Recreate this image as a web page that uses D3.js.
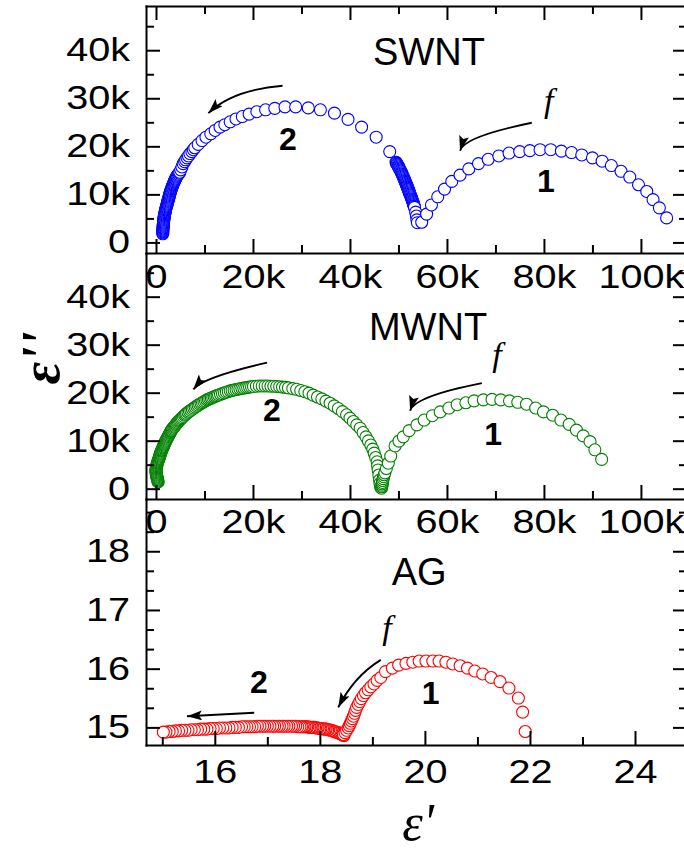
<!DOCTYPE html>
<html><head><meta charset="utf-8">
<script src="https://cdn.jsdelivr.net/npm/d3@7"></script>
<style>body{margin:0;background:#fff} svg{display:block}</style>
</head><body>
<svg id="chart" width="684" height="852"></svg>
<script>
// ---------------- data (SWNT / MWNT in thousands) ----------------
const swnt2 = [
[1.40,1.8],[1.40,2.0],[1.40,2.2],[1.41,2.4],[1.42,2.6],[1.43,2.8],[1.45,3.0],[1.47,3.2],[1.49,3.4],[1.51,3.6],[1.53,3.8],[1.55,4.0],[1.56,4.2],[1.58,4.4],[1.60,4.6],[1.62,4.8],[1.65,5.0],[1.68,5.2],[1.72,5.4],[1.75,5.6],[1.78,5.8],[1.82,6.0],[1.86,6.2],[1.90,6.4],[1.94,6.6],[1.98,6.8],[2.03,7.0],[2.08,7.2],[2.13,7.4],[2.19,7.6],[2.24,7.8],[2.30,8.0],[2.35,8.2],[2.41,8.4],[2.46,8.6],[2.52,8.8],[2.57,9.0],[2.63,9.2],[2.68,9.4],[2.73,9.6],[2.78,9.8],[2.83,10.0],[2.88,10.2],[2.94,10.4],[3.00,10.6],[3.06,10.8],[3.13,11.0],[3.20,11.2],[3.27,11.4],[3.34,11.6],[3.41,11.8],[3.49,12.0],[3.57,12.2],[3.65,12.4],[3.73,12.6],[3.81,12.8],[3.90,13.0],[4.00,13.2],[4.10,13.4],[4.20,13.6],[4.30,13.8],[4.45,14.0],[4.60,14.2],[4.75,14.4],[4.90,14.6],[5.1,15.1],
[5.35,15.7],[5.6,16.4],[5.9,16.8],[6.1,17.2],[6.4,17.6],[6.7,18.0],[7.0,18.5],[7.4,18.9],[7.7,19.3],[8.0,19.7],[8.7,20.4],[9.5,21.2],[10.3,21.9],[11.3,22.6],[12.2,23.3],[13.2,24.0],[14.2,24.5],[15.3,25.1],[16.5,25.7],[17.8,26.2],[19.2,26.7],[20.8,27.2],[22.6,27.6],[24.5,27.9],[26.6,28.2],[28.8,28.2],[31.4,28.0],[33.9,27.6],[36.8,26.9],[39.6,25.6],[42.4,24.0],[45.4,21.9],[48.2,18.9],
[49.5,16.7],[49.6,16.5],[49.7,16.3],[49.85,16.1],[49.95,15.9],[50.05,15.7],[50.15,15.5],[50.25,15.3],[50.35,15.1],[50.45,14.9],[50.55,14.7],[50.65,14.5],[50.72,14.3],[50.8,14.1],[50.9,13.9],[50.98,13.7],[51.05,13.5],[51.15,13.3],[51.23,13.1],[51.3,12.9],[51.38,12.7],[51.46,12.5],[51.54,12.3],[51.62,12.1],[51.7,11.9],[51.78,11.7],[51.85,11.5],[51.93,11.3],[52.0,11.1],[52.08,10.9],[52.15,10.7],[52.23,10.5],[52.3,10.3],[52.38,10.1],[52.45,9.9],[52.52,9.7],[52.6,9.5],[52.67,9.3],[52.74,9.1],[52.81,8.9],[52.88,8.7],[52.95,8.5],[53.02,8.3],[53.08,8.1],[53.14,7.9],[53.2,7.7],[53.25,7.5],[53.3,7.3],[53.55,6.3],[53.7,5.5],[53.8,4.7],[53.9,4.1]
];
const swnt1 = [
[54.8,4.2],[55.8,5.9],[56.8,7.8],[58.1,9.5],[59.5,11.1],[61.0,12.7],[62.7,14.0],[64.5,15.3],[66.5,16.4],[68.5,17.3],[70.7,18.0],[72.8,18.6],[75.0,18.9],[77.1,19.1],[79.2,19.3],[81.4,19.3],[83.6,19.0],[85.7,18.7],[87.8,18.2],[90.0,17.6],[92.0,16.9],[93.9,16.0],[95.9,14.8],[97.7,13.6],[99.5,12.0],[101.2,10.6],[102.5,8.9],[103.8,7.2],[105.3,5.1]
];
const mwnt2 = [
[0.45,1.4],[0.4,1.6],[0.35,1.8],[0.3,2.0],[0.25,2.2],[0.2,2.4],[0.15,2.6],[0.1,2.8],[0.07,3.0],[0.04,3.2],[0.02,3.4],[0.0,3.6],[0.0,3.8],[0.02,4.0],[0.05,4.2],[0.08,4.4],[0.12,4.6],[0.16,4.8],[0.2,5.0],[0.25,5.2],[0.3,5.4],[0.36,5.6],[0.43,5.8],[0.5,6.0],[0.57,6.2],[0.63,6.4],[0.7,6.6],[0.77,6.8],[0.83,7.0],[0.9,7.2],[0.97,7.4],[1.03,7.6],[1.1,7.8],[1.15,7.95],[1.2,8.1],[1.29,8.3],[1.38,8.5],[1.47,8.7],[1.56,8.9],[1.65,9.1],[1.74,9.3],[1.83,9.5],[1.92,9.7],[2.01,9.9],[2.1,10.1],[2.2,10.3],[2.31,10.5],[2.41,10.7],[2.52,10.9],[2.62,11.1],[2.73,11.3],[2.84,11.5],[2.94,11.7],[3.05,11.9],[3.12,12.05],[3.2,12.2],[3.35,12.4],[3.5,12.6],[3.66,12.8],[3.82,13.0],[3.97,13.2],[4.13,13.4],[4.28,13.6],[4.44,13.8],[4.6,14.0],[4.8,14.2],[5.0,14.4],[5.2,14.6],[5.4,14.8],[5.65,15.05],[5.9,15.3],[6.1,15.5],[6.3,15.7],[6.6,15.92],[6.9,16.13],[7.2,16.35],[7.5,16.56],[7.8,16.78],[8.1,16.99],[8.4,17.2],[8.7,17.4],[9.0,17.6],[9.3,17.78],[9.6,17.95],[9.9,18.12],[10.2,18.3],[10.5,18.5],[10.8,18.63],[11.1,18.76],[11.4,18.89],[11.7,19.02],[12.0,19.15],[12.3,19.28],[12.6,19.4],[12.9,19.52],[13.3,19.67],[13.7,19.81],[14.1,19.95],[14.5,20.1],[14.9,20.24],[15.3,20.4],[15.7,20.48],[16.1,20.56],[16.5,20.65],[16.9,20.73],[17.3,20.82],[17.7,20.9],[18.1,20.97],[18.5,21.03],[18.9,21.1],[19.3,21.17],[19.7,21.23],[20.1,21.3],[20.7,21.35],[21.3,21.4],[21.9,21.4],[22.5,21.4],[23.1,21.4],[23.7,21.35],[24.3,21.35],[24.9,21.3],[25.5,21.25],[26.1,21.15],[26.7,21.1],[27.3,21.0],
[28.2,20.85],[29.0,20.7],[29.85,20.45],[30.7,20.2],[31.55,19.9],[32.4,19.5],[33.3,19.1],[34.2,18.7],[35.05,18.25],[35.9,17.8],[36.75,17.25],[37.6,16.7],[38.45,16.05],[39.3,15.4],[40.0,14.7],[40.7,14.0],[41.4,13.3],[42.1,12.6],[42.7,11.7],[43.3,10.8],[43.8,9.95],[44.3,9.1],[44.7,8.25],[45.0,7.4],[45.3,6.5],[45.6,5.6],[45.7,4.75],[45.8,3.9],[45.95,2.85],[46.1,1.8],[46.2,1.1],[46.3,0.4]
];
const mwnt1 = [
[46.5,0.1],[46.55,0.4],[46.6,0.7],[46.65,1.0],[46.7,1.3],[46.75,1.7],[46.85,2.1],[46.95,2.5],[47.05,2.9],[47.2,3.3],[47.5,4.2],[47.9,5.3],[48.4,6.8],[49.3,8.9],[50.1,9.9],[51.0,10.8],[52.2,12.1],[53.8,13.3],[55.3,14.3],[57.0,15.2],[58.6,16.0],[60.4,16.8],[62.1,17.5],[63.9,17.9],[65.6,18.3],[67.5,18.5],[69.3,18.6],[71.1,18.5],[72.9,18.3],[74.6,18.0],[76.4,17.6],[78.3,16.8],[79.9,16.0],[81.8,15.3],[83.5,14.3],[85.2,13.4],[86.7,12.2],[88.1,11.0],[89.5,9.8],[90.5,8.1],[91.9,6.1]
];
const ag2 = [
[18.46,14.86],[18.44,14.87],[18.42,14.88],[18.40,14.89],[18.37,14.90],[18.35,14.91],[18.32,14.92],[18.30,14.92],[18.27,14.93],[18.25,14.94],[18.22,14.95],[18.20,14.95],[18.17,14.96],[18.15,14.96],[18.12,14.97],[18.10,14.97],[18.07,14.97],[18.05,14.98],[18.02,14.98],[18.00,14.98],[17.97,14.99],[17.95,14.99],[17.92,14.99],[17.90,15.00],[17.87,15.00],[17.85,15.00],[17.82,15.00],[17.80,15.00],[17.77,15.01],[17.75,15.01],[17.72,15.01],[17.70,15.01],[17.67,15.01],[17.65,15.01],[17.62,15.01],
[17.58,15.01],[17.54,15.02],[17.50,15.02],[17.46,15.02],[17.41,15.02],[17.37,15.02],[17.32,15.02],[17.28,15.02],[17.23,15.02],[17.19,15.02],[17.14,15.02],[17.10,15.02],[17.05,15.02],[17.00,15.02],[16.95,15.02],[16.91,15.02],[16.86,15.02],[16.81,15.02],[16.76,15.01],[16.71,15.01],[16.66,15.01],[16.61,15.01],[16.56,15.01],[16.51,15.01],
[16.45,15.00],[16.39,15.00],[16.33,15.00],[16.27,14.99],[16.21,14.99],[16.15,14.99],[16.09,14.99],[16.03,14.98],[15.97,14.98],[15.91,14.98],[15.85,14.97],[15.79,14.97],[15.73,14.97],[15.67,14.96],[15.61,14.96],[15.55,14.96],[15.49,14.95],[15.43,14.95],[15.37,14.95],[15.31,14.94],[15.25,14.94],[15.19,14.93],[15.13,14.93],[15.07,14.92],[15.02,14.92]
];
const ag1 = [
[18.45,14.88],[18.48,14.91],[18.51,14.95],[18.54,14.99],[18.56,15.03],[18.58,15.07],[18.60,15.11],[18.62,15.15],[18.64,15.19],[18.66,15.24],[18.68,15.29],[18.70,15.34],[18.73,15.39],[18.76,15.44],[18.79,15.49],[18.83,15.54],[18.87,15.59],[18.92,15.64],[18.97,15.69],[19.03,15.74],[19.09,15.80],[19.16,15.85],[19.25,15.95],[19.38,16.01],[19.50,16.06],[19.64,16.09],[19.77,16.11],[19.89,16.13],[20.02,16.13],[20.15,16.13],[20.27,16.13],[20.40,16.11],[20.53,16.08],[20.67,16.05],[20.81,16.01],[20.95,15.96],[21.10,15.91],[21.26,15.85],[21.43,15.78],[21.60,15.67],[21.78,15.50],[21.86,15.26],[21.91,14.93]
];
// ---------------- ticks ----------------
const cntXMajor = [0,20,40,60,80,100];
const cntXMinor = [10,30,50,70,90];
const cntYMajor = [0,10,20,30,40];
const cntYMinor = [5,15,25,35,45];
const agXMajor = [16,18,20,22,24];
const agXMinor = [15,17,19,21,23];
const agYMajor = [15,16,17,18];
const agYMinor = [15+1/3,15+2/3,16+1/3,16+2/3,17+1/3,17+2/3,18+1/3,18+2/3];
const fmtK = v => v===0 ? "0" : v+"k";
const fmtN = v => String(v);

// ---------------- layout ----------------
const L = 146, R = 687;
const SANS = "'Liberation Sans', Arial, Helvetica, sans-serif";
const SERIF = "'Liberation Serif', 'Times New Roman', serif";
const svg = d3.select("#chart");
svg.append("defs").append("marker")
  .attr("id","ah").attr("markerUnits","userSpaceOnUse")
  .attr("markerWidth",16).attr("markerHeight",11)
  .attr("refX",15).attr("refY",5).attr("orient","auto")
  .append("path").attr("d","M0,0 L15,5 L0,10 L3,5 Z").attr("fill","#000");

const panels = [
 {id:1, top:6, bottom:253, xd:[-2.06,109.5], yd:[-2.2,49.2], color:"#0000ff",
  series:[swnt2, swnt1], xMajor:cntXMajor, xMinor:cntXMinor, yMajor:cntYMajor, yMinor:cntYMinor, fmt:fmtK, xPad:12, topTicks:true,
  title:["SWNT",56.3,37.0], n2:[27.2,19.3], n1:[80.4,10.5], f:[81.0,27.2],
  arrows:[[[26.1,32.6],[15.7,31.75],[10.8,26.9]], [[77.5,24.9],[63.5,22.0],[62.7,19.1]]]},
 {id:2, top:253, bottom:499, xd:[-2.06,109.5], yd:[-2.15,49.1], color:"#008000",
  series:[mwnt2, mwnt1], xMajor:cntXMajor, xMinor:cntXMinor, yMajor:cntYMajor, yMinor:cntYMinor, fmt:fmtK, xPad:11, topTicks:false,
  title:["MWNT",56.1,31.0], n2:[23.9,14.0], n1:[69.5,9.1], f:[70.3,25.6],
  arrows:[[[22.9,26.25],[9.7,23.2],[7.7,20.7]], [[67.2,22.0],[53.2,19.2],[52.4,16.25]]]},
 {id:3, top:499, bottom:745, xd:[14.69,24.99], yd:[14.70,18.89], color:"#ff0000",
  series:[ag2, ag1], xMajor:agXMajor, xMinor:agXMinor, yMajor:agYMajor, yMinor:agYMinor, fmt:fmtN, xPad:15, topTicks:false,
  title:["AG",19.89,17.42], n2:[16.84,15.59], n1:[20.11,15.40], f:[19.28,16.50],
  arrows:[[[16.75,15.25],[16.1,15.22],[15.47,15.19]], [[19.16,16.15],[18.65,15.87],[18.35,15.34]]]}
];

const SX = 1.2, TICKFS = 33;
function styleAxis(g){
  g.attr("font-size",TICKFS).attr("font-family",SANS);
  g.selectAll("line").attr("stroke","#000").attr("stroke-width",2);
  g.selectAll(".domain").attr("stroke","#000").attr("stroke-width",2).attr("stroke-linecap","square");
  g.selectAll("text").attr("fill","#000");
}

panels.forEach(p=>{
  const x = d3.scaleLinear().domain(p.xd).range([L,R]);
  const y = d3.scaleLinear().domain(p.yd).range([p.bottom,p.top]);
  const g = svg.append("g");
  svg.select("defs").append("clipPath").attr("id","c"+p.id)
    .append("rect").attr("x",L).attr("y",p.top).attr("width",R-L).attr("height",p.bottom-p.top);
  const dg = g.append("g").attr("clip-path",`url(#c${p.id})`);
  p.series.forEach(s=>{
    dg.append("g").selectAll("circle").data(s).join("circle")
      .attr("cx",d=>x(d[0])).attr("cy",d=>y(d[1])).attr("r",6)
      .attr("fill","#fff").attr("stroke",p.color).attr("stroke-width",1.1);
  });
  // arrows
  p.arrows.forEach(a=>{
    const pa = d3.path();
    pa.moveTo(x(a[0][0]),y(a[0][1]));
    pa.quadraticCurveTo(x(a[1][0]),y(a[1][1]),x(a[2][0]),y(a[2][1]));
    g.append("path").attr("d",pa.toString()).attr("fill","none").attr("stroke","#000")
      .attr("stroke-width",1.9).attr("marker-end","url(#ah)");
  });
  // texts
  g.append("text").attr("x",x(p.title[1])).attr("y",y(p.title[2])).attr("text-anchor","middle")
    .attr("font-family",SANS).attr("font-size",38).text(p.title[0]);
  g.append("text").attr("x",x(p.n2[0])).attr("y",y(p.n2[1])).attr("text-anchor","middle")
    .attr("font-family",SANS).attr("font-weight","bold").attr("font-size",32).text("2");
  g.append("text").attr("x",x(p.n1[0])).attr("y",y(p.n1[1])).attr("text-anchor","middle")
    .attr("font-family",SANS).attr("font-weight","bold").attr("font-size",32).text("1");
  g.append("text").attr("x",x(p.f[0])).attr("y",y(p.f[1])).attr("text-anchor","middle")
    .attr("font-family",SERIF).attr("font-style","italic").attr("font-size",34).text("f");

  // axes
  const ax = g.append("g");
  const b1 = ax.append("g").attr("transform",`translate(0,${p.bottom})`)
    .call(d3.axisBottom(x).tickValues(p.xMajor).tickSizeInner(-14).tickSizeOuter(0).tickPadding(p.xPad).tickFormat(p.fmt));
  b1.selectAll("text").attr("transform",`scale(${SX},1)`);
  styleAxis(b1);
  const b2 = ax.append("g").attr("transform",`translate(0,${p.bottom})`)
    .call(d3.axisBottom(x).tickValues(p.xMinor).tickSizeInner(-8).tickSizeOuter(0).tickFormat(""));
  b2.select(".domain").remove(); styleAxis(b2);
  const l1 = ax.append("g").attr("transform",`translate(${L},0)`)
    .call(d3.axisLeft(y).tickValues(p.yMajor).tickSizeInner(-14).tickSizeOuter(0).tickPadding(16/SX).tickFormat(p.fmt));
  l1.selectAll("text").attr("transform",`scale(${SX},1)`);
  styleAxis(l1);
  const l2 = ax.append("g").attr("transform",`translate(${L},0)`)
    .call(d3.axisLeft(y).tickValues(p.yMinor).tickSizeInner(-8).tickSizeOuter(0).tickFormat(""));
  l2.select(".domain").remove(); styleAxis(l2);
  const r1 = ax.append("g").attr("transform",`translate(${R},0)`)
    .call(d3.axisRight(y).tickValues(p.yMajor).tickSizeInner(-14).tickSizeOuter(0).tickFormat(""));
  styleAxis(r1);
  const r2 = ax.append("g").attr("transform",`translate(${R},0)`)
    .call(d3.axisRight(y).tickValues(p.yMinor).tickSizeInner(-8).tickSizeOuter(0).tickFormat(""));
  r2.select(".domain").remove(); styleAxis(r2);
  if(p.topTicks){
    const t1 = ax.append("g").attr("transform",`translate(0,${p.top})`)
      .call(d3.axisTop(x).tickValues(p.xMajor).tickSizeInner(-14).tickSizeOuter(0).tickFormat(""));
    styleAxis(t1);
    const t2 = ax.append("g").attr("transform",`translate(0,${p.top})`)
      .call(d3.axisTop(x).tickValues(p.xMinor).tickSizeInner(-8).tickSizeOuter(0).tickFormat(""));
    t2.select(".domain").remove(); styleAxis(t2);
  }
});

// axis titles
svg.append("text").attr("transform","translate(59,358) rotate(-90)").attr("text-anchor","middle")
  .attr("font-family",SERIF).attr("font-style","italic").attr("font-weight","bold").attr("font-size",55).text("ε''");
svg.append("text").attr("x",418).attr("y",840).attr("text-anchor","middle")
  .attr("font-family",SERIF).attr("font-style","italic").attr("font-size",52).text("ε'");
</script>
</body></html>
